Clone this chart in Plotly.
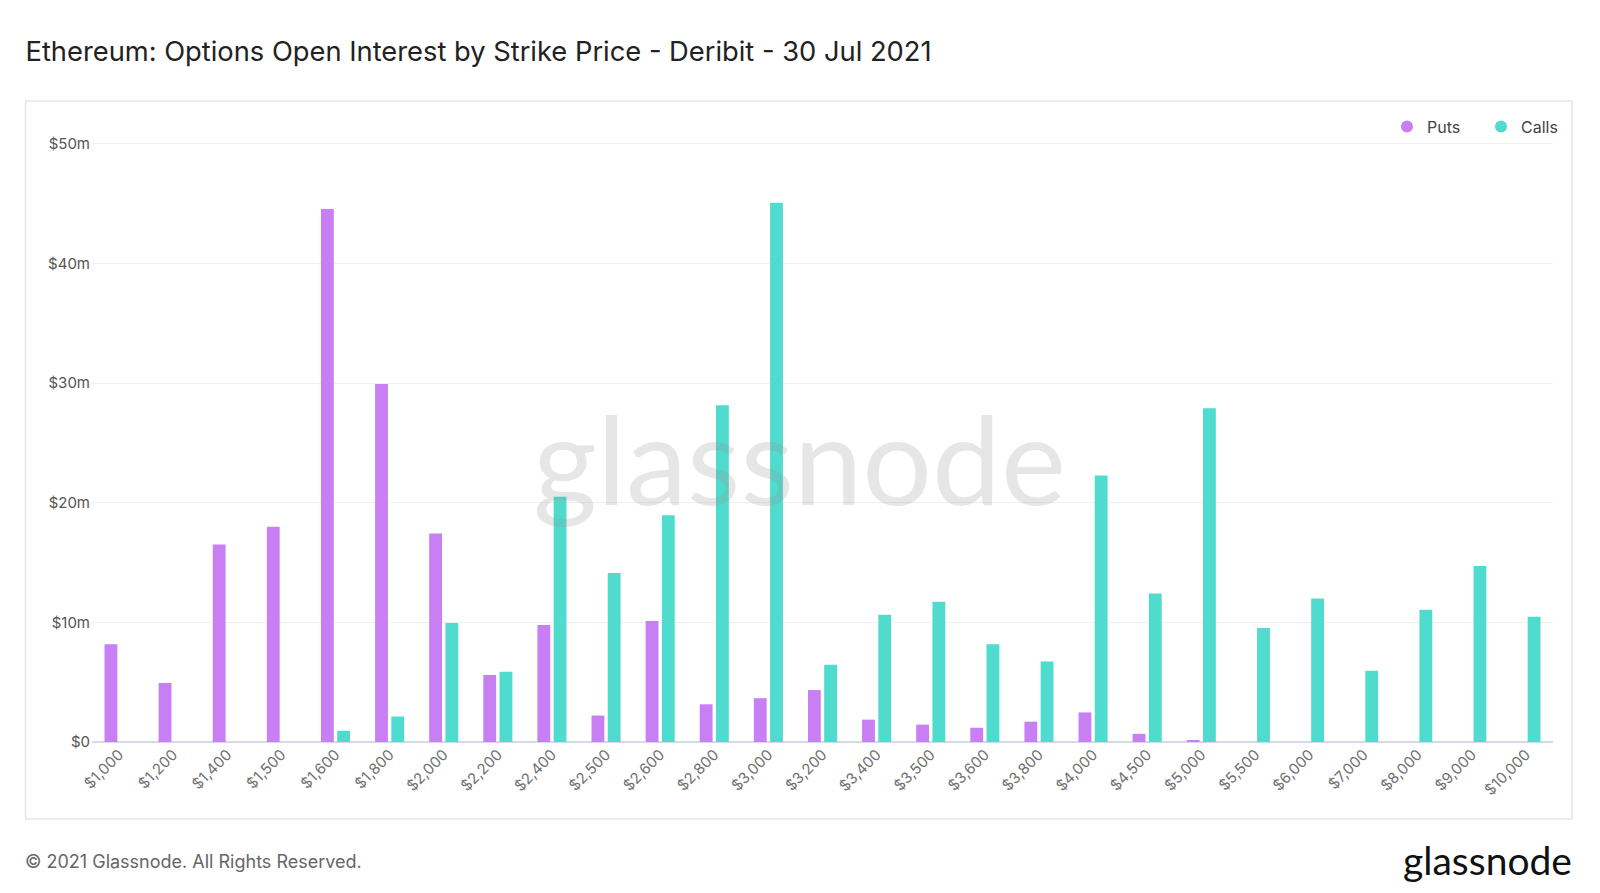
import plotly.graph_objects as go

strikes = ["$1,000", "$1,200", "$1,400", "$1,500", "$1,600", "$1,800", "$2,000", "$2,200",
           "$2,400", "$2,500", "$2,600", "$2,800", "$3,000", "$3,200", "$3,400", "$3,500",
           "$3,600", "$3,800", "$4,000", "$4,500", "$5,000", "$5,500", "$6,000", "$7,000",
           "$8,000", "$9,000", "$10,000"]

puts = [8.16, 4.93, 16.5, 18.0, 44.56, 29.93, 17.43, 5.61, 9.78, 2.21, 10.12, 3.15, 3.66,
        4.34, 1.87, 1.45, 1.19, 1.70, 2.47, 0.68, 0.17, 0, 0, 0, 0, 0, 0]

calls = [0, 0, 0, 0, 0.94, 2.13, 9.95, 5.87, 20.49, 14.12, 18.96, 28.15, 45.07, 6.46, 10.63,
         11.73, 8.16, 6.72, 22.28, 12.41, 27.89, 9.52, 11.99, 5.95, 11.05, 14.71, 10.46]

y_ticks = [0, 10, 20, 30, 40, 50]
y_tick_labels = ["$0", "$10m", "$20m", "$30m", "$40m", "$50m"]

PUT_COLOR = "#c77ff3"
CALL_COLOR = "#4fdbcd"
FONT = "Inter, 'Open Sans', sans-serif"

fig = go.Figure()
fig.add_trace(go.Bar(x=strikes, y=puts, name="Puts",
                     marker=dict(color=PUT_COLOR, line=dict(width=0)), showlegend=False))
fig.add_trace(go.Bar(x=strikes, y=calls, name="Calls",
                     marker=dict(color=CALL_COLOR, line=dict(width=0)), showlegend=False))
# legend entries with circle symbols
fig.add_trace(go.Scatter(x=[None], y=[None], mode="markers", name="Puts",
                         marker=dict(color=PUT_COLOR, size=12, symbol="circle")))
fig.add_trace(go.Scatter(x=[None], y=[None], mode="markers", name="Calls",
                         marker=dict(color=CALL_COLOR, size=12, symbol="circle")))

fig.update_layout(
    width=1600, height=893,
    margin=dict(l=92, r=47, t=142, b=151, autoexpand=False),
    paper_bgcolor="white", plot_bgcolor="white",
    barmode="group", bargap=0.4, bargroupgap=0.21,
    font=dict(family=FONT, color="#555555"),
    title=dict(text="Ethereum: Options Open Interest by Strike Price - Deribit - 30 Jul 2021",
               x=25.5 / 1600, xanchor="left", y=1 - 51 / 893, yanchor="middle",
               font=dict(family=FONT, size=27.3, color="#222222")),
    legend=dict(orientation="h", x=(1575 - 92) / 1461, xanchor="right",
                y=(742 - 126.5) / 600, yanchor="middle",
                font=dict(family=FONT, size=16, color="#444444"), itemwidth=30,
                entrywidth=49, entrywidthmode="pixels",
                bgcolor="rgba(0,0,0,0)", tracegroupgap=0),
    xaxis=dict(type="category", tickangle=-45, tickfont=dict(family=FONT, size=15, color="#707070"),
               showgrid=False, showline=False, ticks="", zeroline=False, fixedrange=True),
    yaxis=dict(range=[0, 50.15], tickvals=y_ticks, ticktext=y_tick_labels,
               tickfont=dict(family=FONT, size=15, color="#555555"),
               showgrid=True, gridcolor="#f0f0f0", gridwidth=1, zeroline=True,
               zerolinecolor="#d3dbea", zerolinewidth=2, ticks="", ticklabelstandoff=1),
    shapes=[dict(type="rect", xref="paper", yref="paper",
                 x0=(25.5 - 92) / 1461, x1=(1572 - 92) / 1461,
                 y0=(742 - 819) / 600, y1=(742 - 101) / 600,
                 line=dict(color="#e6e6e6", width=1.5), fillcolor="rgba(0,0,0,0)", layer="below")],
    annotations=[
        dict(text="glassnode", xref="paper", yref="paper",
             x=(799 - 92) / 1461, y=(742 - 457) / 600, xanchor="center", yanchor="middle",
             showarrow=False, font=dict(family="Lato, 'Open Sans', sans-serif", size=123,
                                        color="rgba(150,150,150,0.24)")),
        dict(text="© 2021 Glassnode. All Rights Reserved.", xref="paper", yref="paper",
             x=(22.5 - 92) / 1461, y=(742 - 861) / 600, xanchor="left", yanchor="middle",
             showarrow=False, font=dict(family=FONT, size=18, color="#666666")),
        dict(text="glassnode", xref="paper", yref="paper",
             x=(1574 - 92) / 1461, y=(742 - 860) / 600, xanchor="right", yanchor="middle",
             showarrow=False, font=dict(family="Lato, 'Open Sans', sans-serif", size=39,
                                        color="#111111")),
    ],
)

fig.write_html("out.html")
